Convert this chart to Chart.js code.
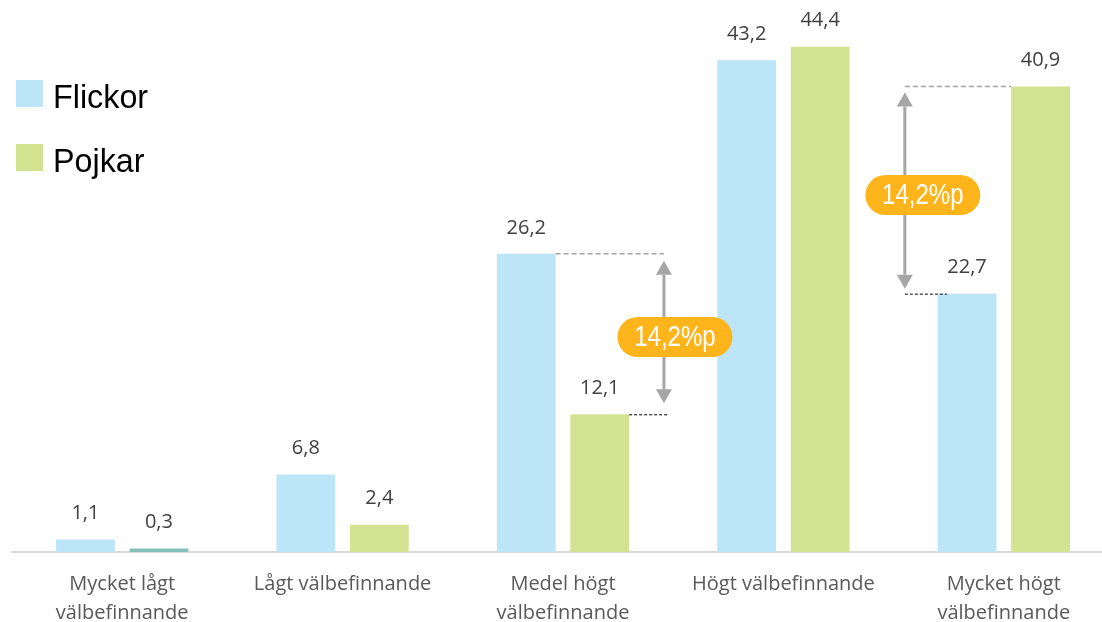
<!DOCTYPE html>
<html>
<head>
<meta charset="utf-8">
<script src="https://cdn.jsdelivr.net/npm/chart.js@4"></script>
<style>
html,body{margin:0;padding:0;background:#fff;overflow:hidden;}
#wrap{position:relative;width:1114px;height:622px;}
</style>
</head>
<body>
<div id="wrap"><canvas id="c"></canvas></div>
<script>
const categories = [
  ['Mycket lågt', 'välbefinnande'],
  'Lågt välbefinnande',
  ['Medel högt', 'välbefinnande'],
  'Högt välbefinnande',
  ['Mycket högt', 'välbefinnande']
];
const seriesNames = ['Flickor', 'Pojkar'];
const flickor = [1.1, 6.8, 26.2, 43.2, 22.7];
const pojkar = [0.3, 2.4, 12.1, 44.4, 40.9];
const valueLabels = [
  ['1,1', '6,8', '26,2', '43,2', '22,7'],
  ['0,3', '2,4', '12,1', '44,4', '40,9']
];
const diffCategory = [2, 4];
const diffHigh = [26.2, 40.9];
const diffLow = [12.1, 22.7];
const diffText = ['14,2%p', '14,2%p'];

const BLUE = '#BDE5F8';
const GREEN = '#D3E290';
const TEAL = '#84C1B9';
const NARROW = '"Liberation Sans Narrow", "Arial Narrow", "Liberation Sans", sans-serif';
const BODY = '"Open Sans", Lato, sans-serif';

const valueLabelPlugin = {
  id: 'valueLabels',
  afterDatasetsDraw(chart) {
    const ctx = chart.ctx;
    ctx.save();
    ctx.font = '20px ' + BODY;
    ctx.fillStyle = '#404040';
    ctx.textAlign = 'center';
    ctx.textBaseline = 'middle';
    chart.data.datasets.forEach((ds, di) => {
      const meta = chart.getDatasetMeta(di);
      meta.data.forEach((bar, i) => {
        ctx.fillText(valueLabels[di][i], bar.x, bar.y - 26);
      });
    });
    ctx.restore();
  }
};

const legendPlugin = {
  id: 'customLegend',
  afterDraw(chart) {
    const ctx = chart.ctx;
    ctx.save();
    const cols = [BLUE, GREEN];
    const tops = [80, 144];
    ctx.font = '34px ' + NARROW;
    ctx.textBaseline = 'middle';
    ctx.textAlign = 'left';
    seriesNames.forEach((n, i) => {
      ctx.fillStyle = cols[i];
      ctx.fillRect(16, tops[i], 27, 27);
      ctx.fillStyle = '#000';
      ctx.save();
      ctx.translate(53, tops[i] + 19);
      ctx.scale(0.95, 1);
      ctx.fillText(n, 0, 0);
      ctx.restore();
    });
    ctx.restore();
  }
};

function roundRect(ctx, x, y, w, h, r) {
  ctx.beginPath();
  ctx.moveTo(x + r, y);
  ctx.lineTo(x + w - r, y);
  ctx.arc(x + w - r, y + r, r, -Math.PI / 2, Math.PI / 2);
  ctx.lineTo(x + r, y + h);
  ctx.arc(x + r, y + r, r, Math.PI / 2, Math.PI * 1.5);
  ctx.closePath();
}

const diffPlugin = {
  id: 'diffAnnotations',
  afterDatasetsDraw(chart) {
    const ctx = chart.ctx;
    const xs = chart.scales.x, ys = chart.scales.y;
    const catW = xs.getPixelForValue(1) - xs.getPixelForValue(0);
    const mB = chart.getDatasetMeta(0), mG = chart.getDatasetMeta(1);
    ctx.save();
    diffCategory.forEach((ci, k) => {
      const cx = xs.getPixelForValue(ci);
      const yHi = ys.getPixelForValue(diffHigh[k]);
      const yLo = ys.getPixelForValue(diffLow[k]);
      const bB = mB.data[ci], bG = mG.data[ci];
      const bBw = bB.width, bGw = bG.width;
      let ax, g1, g2, b1, b2, pillDx, pillDy, tipTop, tipBot;
      if (k === 0) {
        ax = cx + 0.458 * catW;
        g1 = bB.x + bBw / 2; g2 = ax;
        b1 = bG.x + bGw / 2; b2 = ax + 4;
        pillDx = 11; pillDy = 3; tipTop = yHi + 7; tipBot = yLo - 11;
      } else {
        ax = cx - 0.449 * catW;
        g1 = ax; g2 = bG.x - bGw / 2;
        b1 = ax; b2 = ax + 42;
        pillDx = 18; pillDy = 5; tipTop = yHi + 6; tipBot = yLo - 5;
      }
      ctx.strokeStyle = '#A6A6A6';
      ctx.lineWidth = 1.5;
      ctx.setLineDash([5, 3]);
      ctx.beginPath(); ctx.moveTo(g1, yHi); ctx.lineTo(g2, yHi); ctx.stroke();
      ctx.strokeStyle = '#000';
      ctx.lineWidth = 1;
      ctx.setLineDash([3, 2]);
      ctx.beginPath(); ctx.moveTo(b1, yLo + 0.5); ctx.lineTo(b2, yLo + 0.5); ctx.stroke();
      ctx.setLineDash([]);
      const hl = 14, hw = 8;
      ctx.strokeStyle = '#A6A6A6';
      ctx.fillStyle = '#A6A6A6';
      ctx.lineWidth = 3;
      ctx.beginPath(); ctx.moveTo(ax, tipTop + hl); ctx.lineTo(ax, tipBot - hl); ctx.stroke();
      ctx.beginPath(); ctx.moveTo(ax, tipTop); ctx.lineTo(ax - hw, tipTop + hl); ctx.lineTo(ax + hw, tipTop + hl); ctx.closePath(); ctx.fill();
      ctx.beginPath(); ctx.moveTo(ax, tipBot); ctx.lineTo(ax - hw, tipBot - hl); ctx.lineTo(ax + hw, tipBot - hl); ctx.closePath(); ctx.fill();
      const pw = 115, ph = 40;
      const pcx = ax + pillDx, pcy = (yHi + yLo) / 2 + pillDy;
      ctx.fillStyle = '#FDB51B';
      roundRect(ctx, pcx - pw / 2, pcy - ph / 2, pw, ph, ph / 2);
      ctx.fill();
      ctx.fillStyle = '#fff';
      ctx.font = '29px ' + NARROW;
      ctx.textAlign = 'center';
      ctx.textBaseline = 'middle';
      ctx.save();
      ctx.translate(pcx, pcy + 1);
      ctx.scale(0.83, 1);
      ctx.fillText(diffText[k], 0, 0);
      ctx.restore();
    });
    ctx.restore();
  }
};

new Chart(document.getElementById('c'), {
  type: 'bar',
  data: {
    labels: categories,
    datasets: [
      { label: seriesNames[0], data: flickor, backgroundColor: BLUE, borderWidth: 0 },
      { label: seriesNames[1], data: pojkar, backgroundColor: [TEAL, GREEN, GREEN, GREEN, GREEN], borderWidth: 0 }
    ]
  },
  options: {
    responsive: true,
    maintainAspectRatio: false,
    animation: false,
    events: [],
    layout: { padding: { left: 12, right: 0, top: 0, bottom: 0 } },
    datasets: { bar: { categoryPercentage: 0.667, barPercentage: 0.80 } },
    plugins: { legend: { display: false }, tooltip: { enabled: false } },
    scales: {
      x: {
        grid: { display: false, drawTicks: false },
        border: { display: true, color: '#D9D9D9', width: 2 },
        ticks: {
          color: '#595959',
          font: { family: BODY, size: 20, lineHeight: 1.45 },
          padding: 18,
          maxRotation: 0,
          autoSkip: false
        },
        afterFit(scale) { scale.height = 70; }
      },
      y: {
        display: false,
        min: 0,
        max: 48.5,
        afterFit(scale) { scale.width = 0; }
      }
    }
  },
  plugins: [valueLabelPlugin, diffPlugin, legendPlugin]
});
</script>
</body>
</html>
